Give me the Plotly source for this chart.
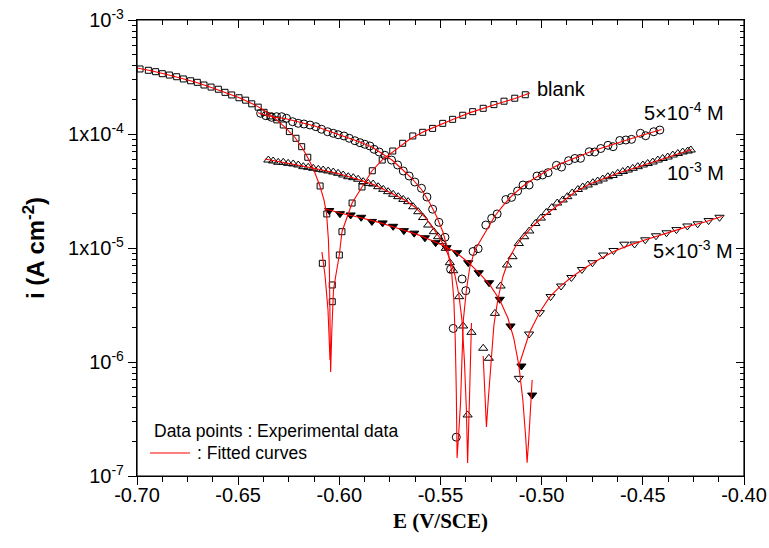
import plotly.graph_objects as go

# ---------------- data (E in V/SCE, i in A cm^-2) ----------------
blank_cath_E = [-0.6985,-0.6944,-0.6908,-0.6875,-0.6840,-0.6804,-0.6771,-0.6735,-0.6702,-0.6669,-0.6634,-0.6598,-0.6565,-0.6532,-0.6496,-0.6463,-0.6433,-0.6401,-0.6372,-0.6343,-0.6309,-0.6277,-0.6247,-0.6214,-0.6186,-0.6156,-0.6095,-0.6084,-0.6062,-0.6035,-0.6035]
blank_cath_i = [3.72e-4,3.62e-4,3.52e-4,3.38e-4,3.29e-4,3.18e-4,3.04e-4,2.93e-4,2.84e-4,2.69e-4,2.58e-4,2.47e-4,2.32e-4,2.20e-4,2.08e-4,1.98e-4,1.84e-4,1.72e-4,1.55e-4,1.44e-4,1.33e-4,1.20e-4,1.05e-4,9.17e-5,7.74e-5,6.25e-5,3.50e-5,7.34e-6,1.99e-5,4.74e-6,3.38e-6]
blank_anod_E = [-0.6000,-0.5987,-0.5937,-0.5888,-0.5837,-0.5788,-0.5736,-0.5687,-0.5637,-0.5588,-0.5539,-0.5489,-0.5440,-0.5390,-0.5341,-0.5289,-0.5236,-0.5186,-0.5133,-0.5081]
blank_anod_i = [8.68e-6,1.39e-5,2.48e-5,3.43e-5,4.76e-5,5.91e-5,7.09e-5,8.29e-5,9.61e-5,1.035e-4,1.12e-4,1.24e-4,1.345e-4,1.46e-4,1.57e-4,1.68e-4,1.81e-4,1.94e-4,2.06e-4,2.21e-4]
blank_fit_E = [-0.7000,-0.6936,-0.6862,-0.6787,-0.6713,-0.6639,-0.6565,-0.6491,-0.6417,-0.6367,-0.6318,-0.6269,-0.6219,-0.6180,-0.6155,-0.6126,-0.6096,-0.6076,-0.6063,-0.6054,-0.6049,-0.6045,-0.6043,-0.6037,-0.6029,-0.6017,-0.6000,-0.5987,-0.5962,-0.5937,-0.5888,-0.5839,-0.5789,-0.5725,-0.5651,-0.5577,-0.5503,-0.5428,-0.5354,-0.5280,-0.5206,-0.5132,-0.5058]
blank_fit_i = [3.79e-4,3.61e-4,3.36e-4,3.10e-4,2.86e-4,2.58e-4,2.31e-4,2.07e-4,1.80e-4,1.59e-4,1.37e-4,1.15e-4,9.32e-5,7.38e-5,6.16e-5,4.83e-5,3.50e-5,2.64e-5,1.99e-5,1.18e-5,6.41e-6,2.34e-6,8.17e-7,1.91e-6,4.28e-6,5.80e-6,8.68e-6,1.39e-5,1.87e-5,2.48e-5,3.43e-5,4.74e-5,5.91e-5,7.24e-5,9.04e-5,1.06e-4,1.21e-4,1.37e-4,1.54e-4,1.71e-4,1.87e-4,2.05e-4,2.29e-4]
blank_frag_E = [-0.6086,-0.6071,-0.6056,-0.6046]
blank_frag_i = [9.22e-6,5.80e-6,2.86e-6,1.04e-6]

c5e4_cath_E = [-0.6389,-0.6363,-0.6335,-0.6310,-0.6285,-0.6261,-0.6231,-0.6203,-0.6175,-0.6145,-0.6116,-0.6088,-0.6058,-0.6030,-0.6006,-0.5977,-0.5951,-0.5923,-0.5898,-0.5874,-0.5849,-0.5828,-0.5803,-0.5775,-0.5742,-0.5712,-0.5684,-0.5655,-0.5627,-0.5594,-0.5567,-0.5539,-0.5508,-0.5478,-0.5450,-0.5437,-0.5422]
c5e4_cath_i = [1.519e-4,1.447e-4,1.401e-4,1.418e-4,1.418e-4,1.373e-4,1.282e-4,1.241e-4,1.224e-4,1.199e-4,1.159e-4,1.100e-4,1.047e-4,1.014e-4,9.86e-5,9.61e-5,9.17e-5,8.73e-5,8.39e-5,8.12e-5,7.85e-5,7.34e-5,6.95e-5,6.51e-5,5.91e-5,5.35e-5,4.74e-5,4.28e-5,3.79e-5,3.34e-5,2.80e-5,2.19e-5,1.68e-5,1.241e-5,6.51e-6,1.97e-6,2.19e-7]
c5e4_anod_E = [-0.5393,-0.5375,-0.5339,-0.5314,-0.5276,-0.5247,-0.5220,-0.5177,-0.5149,-0.5119,-0.5092,-0.5062,-0.5023,-0.4996,-0.4968,-0.4927,-0.4902,-0.4867,-0.4836,-0.4808,-0.4765,-0.4738,-0.4708,-0.4672,-0.4647,-0.4614,-0.4584,-0.4556,-0.4512,-0.4486,-0.4446,-0.4416]
c5e4_anod_i = [5.35e-6,4.22e-6,9.32e-6,9.86e-6,1.59e-5,1.82e-5,1.99e-5,2.66e-5,2.78e-5,3.16e-5,3.57e-5,3.57e-5,4.28e-5,4.37e-5,4.58e-5,5.31e-5,5.13e-5,5.83e-5,6.10e-5,6.12e-5,6.99e-5,6.95e-5,7.46e-5,7.96e-5,7.74e-5,8.77e-5,8.86e-5,8.98e-5,1.014e-4,9.66e-5,1.047e-4,1.084e-4]
c5e4_fit_E = [-0.6402,-0.6343,-0.6269,-0.6195,-0.6121,-0.6047,-0.5972,-0.5898,-0.5839,-0.5790,-0.5740,-0.5691,-0.5641,-0.5592,-0.5553,-0.5518,-0.5488,-0.5464,-0.5446,-0.5434,-0.5427,-0.5422,-0.5418,-0.5409,-0.5401,-0.5394,-0.5387,-0.5372,-0.5355,-0.5330,-0.5301,-0.5266,-0.5231,-0.5192,-0.5148,-0.5098,-0.5049,-0.4984,-0.4910,-0.4836,-0.4762,-0.4688,-0.4614,-0.4540,-0.4466,-0.4407]
c5e4_fit_i = [1.537e-4,1.424e-4,1.368e-4,1.274e-4,1.176e-4,1.052e-4,9.51e-5,8.51e-5,7.69e-5,6.81e-5,5.91e-5,4.93e-5,4.07e-5,3.23e-5,2.48e-5,1.87e-5,1.38e-5,9.61e-6,6.41e-6,3.50e-6,1.56e-6,5.68e-7,1.44e-7,2.53e-7,4.37e-7,1.04e-6,2.34e-6,4.28e-6,6.81e-6,9.61e-6,1.176e-5,1.50e-5,1.91e-5,2.34e-5,2.86e-5,3.43e-5,3.95e-5,4.64e-5,5.46e-5,6.16e-5,6.95e-5,7.69e-5,8.51e-5,9.32e-5,1.020e-4,1.095e-4]

c1e3_cath_E = [-0.6351,-0.6327,-0.6302,-0.6277,-0.6253,-0.6228,-0.6203,-0.6178,-0.6154,-0.6129,-0.6104,-0.6080,-0.6055,-0.6030,-0.6006,-0.5981,-0.5956,-0.5931,-0.5907,-0.5882,-0.5857,-0.5833,-0.5808,-0.5783,-0.5759,-0.5734,-0.5709,-0.5684,-0.5660,-0.5635,-0.5610,-0.5586,-0.5561,-0.5533,-0.5512,-0.5495,-0.5474,-0.5454,-0.5437,-0.5408,-0.5388,-0.5366]
c1e3_cath_i = [5.91e-5,5.80e-5,5.65e-5,5.65e-5,5.53e-5,5.46e-5,5.35e-5,5.17e-5,5.10e-5,5.00e-5,4.90e-5,4.83e-5,4.74e-5,4.64e-5,4.52e-5,4.37e-5,4.22e-5,4.14e-5,4.01e-5,3.82e-5,3.69e-5,3.64e-5,3.45e-5,3.27e-5,3.12e-5,2.96e-5,2.82e-5,2.67e-5,2.55e-5,2.30e-5,2.08e-5,1.85e-5,1.59e-5,1.39e-5,1.256e-5,1.136e-5,9.94e-6,7.43e-6,6.32e-6,3.74e-6,2.07e-6,3.43e-7]
c1e3_anod_E = [-0.5347,-0.5289,-0.5261,-0.5231,-0.5203,-0.5171,-0.5144,-0.5113,-0.5086,-0.5061,-0.5031,-0.5004,-0.4977,-0.4950,-0.4923,-0.4896,-0.4873,-0.4849,-0.4821,-0.4797,-0.4772,-0.4747,-0.4723,-0.4698,-0.4673,-0.4649,-0.4624,-0.4599,-0.4574,-0.4550,-0.4525,-0.4500,-0.4476,-0.4451,-0.4426,-0.4402,-0.4377,-0.4352,-0.4327,-0.4303,-0.4278,-0.4263]
c1e3_anod_i = [1.82e-6,1.32e-6,1.078e-6,2.67e-6,4.64e-6,7.09e-6,8.39e-6,1.095e-5,1.256e-5,1.41e-5,1.64e-5,1.83e-5,2.05e-5,2.26e-5,2.48e-5,2.64e-5,2.82e-5,3.04e-5,3.26e-5,3.43e-5,3.57e-5,3.74e-5,3.87e-5,4.03e-5,4.22e-5,4.33e-5,4.52e-5,4.69e-5,4.83e-5,5.00e-5,5.17e-5,5.35e-5,5.51e-5,5.68e-5,5.91e-5,6.10e-5,6.28e-5,6.54e-5,6.74e-5,6.95e-5,7.09e-5,7.24e-5]
c1e3_fit_E = [-0.6368,-0.6294,-0.6195,-0.6096,-0.5997,-0.5898,-0.5824,-0.5750,-0.5676,-0.5627,-0.5577,-0.5538,-0.5503,-0.5474,-0.5449,-0.5429,-0.5409,-0.5394,-0.5382,-0.5372,-0.5366,-0.5357,-0.5347]
c1e3_fit_i = [6.04e-5,5.74e-5,5.29e-5,4.88e-5,4.46e-5,3.95e-5,3.57e-5,3.07e-5,2.64e-5,2.29e-5,1.87e-5,1.50e-5,1.224e-5,9.80e-6,7.54e-6,5.80e-6,3.87e-6,2.34e-6,1.04e-6,3.79e-7,1.30e-7,4.64e-7,2.20e-6]
c1e3_fit2_E = [-0.5289,-0.5281,-0.5273,-0.5264,-0.5251,-0.5236,-0.5217,-0.5192,-0.5162,-0.5128,-0.5088,-0.5044,-0.4994,-0.4945,-0.4896,-0.4836,-0.4762,-0.4688,-0.4614,-0.4540,-0.4466,-0.4392,-0.4318,-0.4258]
c1e3_fit2_i = [1.129e-6,5.68e-7,2.69e-7,4.64e-7,1.04e-6,2.11e-6,3.50e-6,5.57e-6,8.01e-6,1.041e-5,1.274e-5,1.56e-5,1.87e-5,2.20e-5,2.56e-5,3.10e-5,3.64e-5,4.11e-5,4.59e-5,5.03e-5,5.57e-5,6.16e-5,6.81e-5,7.31e-5]

c5e3_cath_E = [-0.6050,-0.5997,-0.5944,-0.5892,-0.5839,-0.5786,-0.5734,-0.5681,-0.5630,-0.5577,-0.5524,-0.5470,-0.5418,-0.5363,-0.5311,-0.5260,-0.5207,-0.5154,-0.5100,-0.5047]
c5e3_cath_i = [2.13e-5,2.00e-5,1.95e-5,1.86e-5,1.71e-5,1.66e-5,1.55e-5,1.42e-5,1.35e-5,1.23e-5,1.113e-5,1.006e-5,9.09e-6,7.43e-6,6.07e-6,4.96e-6,3.55e-6,2.07e-6,9.22e-7,5.13e-7]
c5e3_anod_E = [-0.5113,-0.5062,-0.5009,-0.4956,-0.4904,-0.4853,-0.4801,-0.4749,-0.4696,-0.4645,-0.4592,-0.4541,-0.4488,-0.4435,-0.4383,-0.4334,-0.4280,-0.4229,-0.4175,-0.4121]
c5e3_anod_i = [7.19e-7,1.76e-6,2.71e-6,3.75e-6,4.64e-6,5.51e-6,6.48e-6,7.43e-6,8.68e-6,9.51e-6,1.08e-5,1.084e-5,1.18e-5,1.28e-5,1.36e-5,1.45e-5,1.56e-5,1.63e-5,1.74e-5,1.86e-5]
c5e3_fit_E = [-0.6066,-0.5997,-0.5898,-0.5800,-0.5701,-0.5602,-0.5503,-0.5429,-0.5365,-0.5306,-0.5256,-0.5207,-0.5167,-0.5138,-0.5113,-0.5093,-0.5078,-0.5072,-0.5064,-0.5054,-0.5047]
c5e3_fit_i = [2.20e-5,2.03e-5,1.85e-5,1.67e-5,1.47e-5,1.29e-5,1.084e-5,9.32e-6,7.54e-6,5.97e-6,4.74e-6,3.50e-6,2.43e-6,1.62e-6,9.41e-7,4.64e-7,2.07e-7,1.31e-7,2.07e-7,3.79e-7,6.95e-7]
c5e3_fit2_E = [-0.5110,-0.5088,-0.5059,-0.5009,-0.4960,-0.4910,-0.4851,-0.4787,-0.4713,-0.4639,-0.4565,-0.4490,-0.4416,-0.4342,-0.4268,-0.4194,-0.4110]
c5e3_fit2_i = [9.61e-7,1.274e-6,1.83e-6,2.75e-6,3.72e-6,4.59e-6,5.57e-6,6.68e-6,8.01e-6,9.41e-6,1.06e-5,1.176e-5,1.30e-5,1.42e-5,1.56e-5,1.69e-5,1.89e-5]

x_ticks = [-0.70, -0.65, -0.60, -0.55, -0.50, -0.45, -0.40]
x_ticktext = ["-0.70", "-0.65", "-0.60", "-0.55", "-0.50", "-0.45", "-0.40"]
y_ticks = [1e-7, 1e-6, 1e-5, 1e-4, 1e-3]
y_ticktext = ["10<sup>-7</sup>", "10<sup>-6</sup>", "1x10<sup>-5</sup>", "1x10<sup>-4</sup>", "10<sup>-3</sup>"]

# ---------------- figure ----------------
fig = go.Figure()
BLK = "black"
RED = "#ff0000"

def markers(x, y, symbol, size, name):
    fig.add_trace(go.Scatter(x=x, y=y, mode="markers", name=name, showlegend=False,
                             marker=dict(symbol=symbol, size=size, color=BLK,
                                         line=dict(color=BLK, width=1))))

def fit(x, y, name):
    fig.add_trace(go.Scatter(x=x, y=y, mode="lines", name=name, showlegend=False,
                             line=dict(color=RED, width=1.1)))

markers(blank_cath_E + blank_anod_E, blank_cath_i + blank_anod_i, "square-open", 6, "blank")
markers(c5e4_cath_E + c5e4_anod_E, c5e4_cath_i + c5e4_anod_i, "circle-open", 8, "5e-4 M")
markers(c1e3_cath_E + c1e3_anod_E, c1e3_cath_i + c1e3_anod_i, "triangle-up-open", 8, "1e-3 M")
markers(c5e3_cath_E, c5e3_cath_i, "triangle-down", 8, "5e-3 M cathodic")
markers(c5e3_anod_E, c5e3_anod_i, "triangle-down-open", 8, "5e-3 M anodic")

fit(blank_fit_E, blank_fit_i, "blank fit")
fit(blank_frag_E, blank_frag_i, "blank fit 2")
fit(c5e4_fit_E, c5e4_fit_i, "5e-4 fit")
fit(c1e3_fit_E, c1e3_fit_i, "1e-3 fit")
fit(c1e3_fit2_E, c1e3_fit2_i, "1e-3 fit 2")
fit(c5e3_fit_E, c5e3_fit_i, "5e-3 fit")
fit(c5e3_fit2_E, c5e3_fit2_i, "5e-3 fit 2")

# invisible copy of one fitted point, only to activate the mirrored top/right axes
fig.add_trace(go.Scatter(x=blank_fit_E[:1], y=blank_fit_i[:1], xaxis="x2", yaxis="y2", mode="markers",
                         marker=dict(opacity=0), showlegend=False, hoverinfo="skip"))

TICKFONT = dict(family="Liberation Sans, Arial, sans-serif", size=20, color=BLK)
minor_y = [m * 10.0 ** e for e in range(-7, -3) for m in range(2, 10)]

fig.update_layout(
    width=769, height=548,
    margin=dict(l=137, r=25, t=20, b=72, autoexpand=False),
    paper_bgcolor="white", plot_bgcolor="white",
    showlegend=False,
    xaxis=dict(range=[-0.70, -0.40], tickmode="array", tickvals=x_ticks, ticktext=x_ticktext,
               automargin=False, ticklabelstandoff=-7, ticklabeloverflow="allow",
               ticks="outside", ticklen=8, tickwidth=1.2, tickcolor=BLK,
               minor=dict(dtick=0.0125, tick0=-0.70, ticks="outside", ticklen=5, tickwidth=1, tickcolor=BLK, showgrid=False),
               showline=True, linecolor=BLK, linewidth=1.2, mirror=True,
               showgrid=False, zeroline=False, tickfont=TICKFONT,
               title=dict(text="<b>E (V/SCE)</b>", standoff=8,
                          font=dict(family="Liberation Serif, Times New Roman, serif", size=21, color=BLK))),
    yaxis=dict(type="log", range=[-7, -3], tickmode="array", tickvals=y_ticks, ticktext=y_ticktext,
               automargin=False, ticklabeloverflow="allow",
               ticks="outside", ticklen=8, tickwidth=1.2, tickcolor=BLK,
               minor=dict(tickmode="array", tickvals=minor_y, ticks="outside", ticklen=4, tickwidth=1, tickcolor=BLK, showgrid=False),
               showline=True, linecolor=BLK, linewidth=1.2, mirror=True,
               showgrid=False, zeroline=False, tickfont=TICKFONT,
               title=dict(text="<b>i (A cm<sup>-2</sup>)</b>", standoff=16,
                          font=dict(family="Liberation Sans, Arial, sans-serif", size=24, color=BLK))),
    xaxis2=dict(overlaying="x", side="top", anchor="y2", range=[-0.70, -0.40], tickmode="array", tickvals=x_ticks,
                automargin=False,
                ticks="inside", ticklen=8, tickwidth=1.2, tickcolor=BLK, showticklabels=False,
                minor=dict(dtick=0.0125, tick0=-0.70, ticks="inside", ticklen=5, tickcolor=BLK),
                showgrid=False, zeroline=False, showline=True, linecolor=BLK, linewidth=1.2),
    yaxis2=dict(overlaying="y", side="right", anchor="x2", type="log", range=[-7, -3], tickmode="array", tickvals=y_ticks,
                automargin=False,
                ticks="inside", ticklen=8, tickwidth=1.2, tickcolor=BLK, showticklabels=False,
                minor=dict(tickmode="array", tickvals=minor_y, ticks="inside", ticklen=4, tickcolor=BLK),
                showgrid=False, zeroline=False, showline=True, linecolor=BLK, linewidth=1.2),
)

LBL = dict(family="Liberation Sans, Arial, sans-serif", size=20, color=BLK)
LEG = dict(family="Liberation Sans, Arial, sans-serif", size=17.5, color=BLK)
notes = [
    ("blank", 0.6557, 0.8487, LBL),
    ("5×10<sup>-4</sup> M", 0.8315, 0.8004, LBL),
    ("10<sup>-3</sup> M", 0.8699, 0.667, LBL),
    ("5×10<sup>-3</sup> M", 0.8463, 0.4978, LBL),
    ("Data points : Experimental data", 0.0247, 0.0987, LEG),
    (": Fitted curves", 0.0956, 0.0504, LEG),
]
for txt, xp, yp, fnt in notes:
    fig.add_annotation(text=txt, x=xp, y=yp, xref="paper", yref="paper",
                       xanchor="left", yanchor="middle", showarrow=False, font=fnt)

fig.add_shape(type="line", xref="paper", yref="paper", x0=0.0214, x1=0.0873, y0=0.0504, y1=0.0504,
              line=dict(color=RED, width=1.2))
# frame around the plot area
fig.add_shape(type="rect", xref="paper", yref="paper", x0=0, x1=1, y0=0, y1=1,
              line=dict(color=BLK, width=1.2), fillcolor="rgba(0,0,0,0)", layer="above")

# remove the browser's default 8 px page margin so the 769x548 figure fills the window exactly
fig.write_html("out.html", config={"displayModeBar": False},
               post_script="document.body.style.margin='0';document.body.style.overflow='hidden';")
